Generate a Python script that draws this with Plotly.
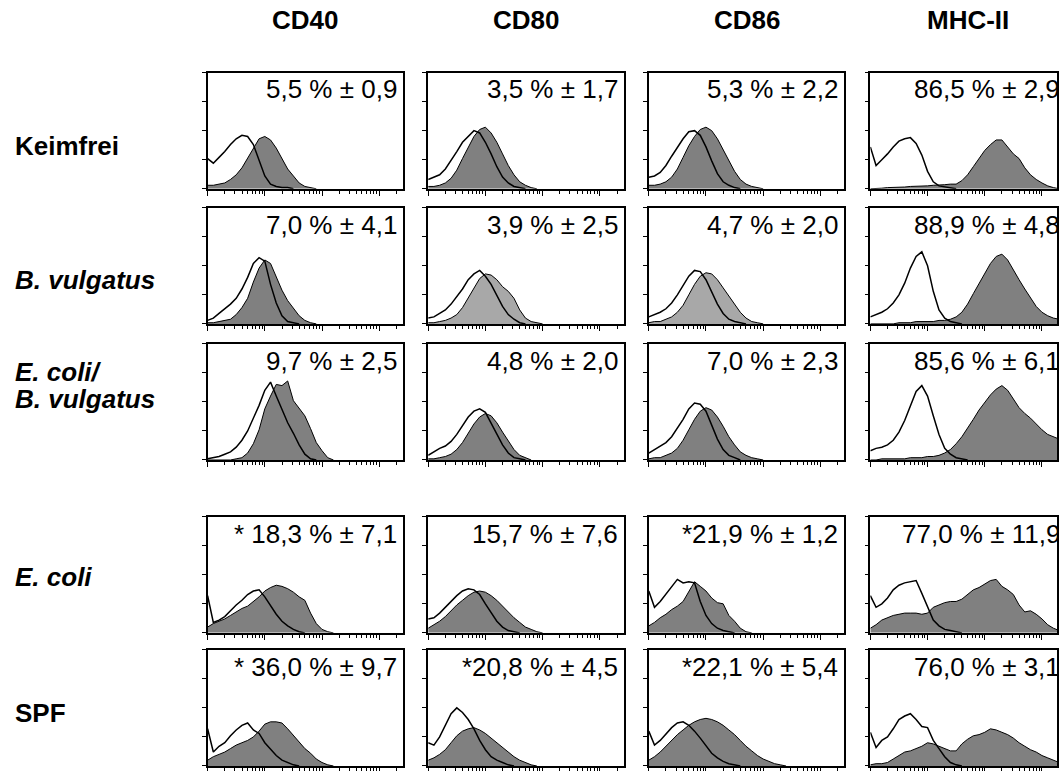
import math
import plotly.graph_objects as go

# ---------------- data ----------------
GRID = [0.0, 0.1, 0.2, 0.3, 0.4, 0.5, 0.6, 0.7, 0.8, 0.9, 1.0, 1.1, 1.2, 1.3, 1.4, 1.5, 1.6,
        1.7, 1.8, 1.9, 2.0, 2.1, 2.2, 2.3, 2.4, 2.5, 2.6, 2.7, 2.8, 2.9, 3.0, 3.1, 3.2, 3.3, 3.4]

MARKERS = ["CD40", "CD80", "CD86", "MHC-II"]
GROUPS = ["<b>Keimfrei</b>", "<b><i>B. vulgatus</i></b>", "<b><i>E. coli/</i></b>|<b><i>B. vulgatus</i></b>",
          "<b><i>E. coli</i></b>", "<b>SPF</b>"]

PERCENTS = [
    ["5,5 % ± 0,9", "3,5 % ± 1,7", "5,3 % ± 2,2", "86,5 % ± 2,9"],
    ["7,0 % ± 4,1", "3,9 % ± 2,5", "4,7 % ± 2,0", "88,9 % ± 4,8"],
    ["9,7 % ± 2,5", "4,8 % ± 2,0", "7,0 % ± 2,3", "85,6 % ± 6,1"],
    ["* 18,3 % ± 7,1", "15,7 % ± 7,6", "*21,9 % ± 1,2", "77,0 % ± 11,9"],
    ["* 36,0 % ± 9,7", "*20,8 % ± 4,5", "*22,1 % ± 5,4", "76,0 % ± 3,1"],
]

# open (isotype control) histograms, fraction of panel height, per marker
keimfrei_ctrl = [
    [0.26, 0.22, 0.27, 0.32, 0.38, 0.43, 0.46, 0.45, 0.38, 0.25, 0.11, 0.04, 0.02, 0.01, 0.01, 0],
    [0.08, 0.1, 0.12, 0.17, 0.24, 0.32, 0.4, 0.45, 0.5, 0.48, 0.4, 0.3, 0.19, 0.1, 0.05, 0.02, 0.01, 0],
    [0.1, 0.11, 0.14, 0.2, 0.28, 0.36, 0.43, 0.49, 0.5, 0.46, 0.36, 0.24, 0.13, 0.06, 0.03, 0.01, 0],
    [0.36, 0.2, 0.25, 0.3, 0.36, 0.41, 0.43, 0.44, 0.39, 0.29, 0.15, 0.06, 0.025, 0.015, 0.01, 0],
]
keimfrei_stain = [
    [0.03, 0.03, 0.04, 0.05, 0.08, 0.12, 0.18, 0.26, 0.35, 0.43, 0.45, 0.42, 0.35, 0.26, 0.17, 0.11, 0.05, 0.02, 0.01, 0],
    [0.02, 0.02, 0.03, 0.05, 0.09, 0.16, 0.26, 0.36, 0.45, 0.51, 0.53, 0.48, 0.4, 0.3, 0.2, 0.12, 0.06, 0.03, 0.01, 0],
    [0.03, 0.03, 0.04, 0.06, 0.1, 0.17, 0.27, 0.37, 0.45, 0.51, 0.53, 0.5, 0.43, 0.34, 0.24, 0.15, 0.08, 0.04, 0.02, 0.01, 0],
    [0, 0, 0.005, 0.01, 0.01, 0.01, 0.015, 0.02, 0.02, 0.02, 0.025, 0.03, 0.03, 0.035, 0.04, 0.04, 0.07, 0.12,
     0.19, 0.26, 0.33, 0.38, 0.42, 0.42, 0.36, 0.3, 0.26, 0.18, 0.12, 0.08, 0.05, 0.025, 0.01, 0, 0],
]

bvulg_ctrl = [
    [0.03, 0.05, 0.09, 0.13, 0.17, 0.22, 0.3, 0.4, 0.52, 0.57, 0.54, 0.34, 0.18, 0.07, 0.02, 0.01, 0],
    [0.05, 0.06, 0.09, 0.12, 0.17, 0.23, 0.3, 0.38, 0.43, 0.46, 0.41, 0.34, 0.25, 0.15, 0.08, 0.04, 0.01, 0],
    [0.06, 0.08, 0.1, 0.13, 0.18, 0.25, 0.33, 0.41, 0.46, 0.45, 0.38, 0.28, 0.17, 0.09, 0.04, 0.02, 0.01, 0],
    [0.06, 0.08, 0.1, 0.13, 0.18, 0.25, 0.35, 0.48, 0.58, 0.62, 0.5, 0.28, 0.12, 0.05, 0.02, 0.01, 0],
]
bvulg_stain = [
    [0.01, 0.01, 0.02, 0.03, 0.04, 0.08, 0.14, 0.22, 0.36, 0.48, 0.55, 0.52, 0.4, 0.29, 0.2, 0.13, 0.07, 0.03, 0.01, 0],
    [0.01, 0.01, 0.02, 0.03, 0.05, 0.08, 0.14, 0.22, 0.31, 0.39, 0.43, 0.42, 0.38, 0.32, 0.28, 0.22, 0.12, 0.05, 0.02, 0.01, 0],
    [0.01, 0.02, 0.02, 0.04, 0.06, 0.1, 0.16, 0.25, 0.34, 0.41, 0.44, 0.43, 0.38, 0.31, 0.24, 0.17, 0.1, 0.05, 0.02, 0.01, 0],
    [0, 0, 0, 0, 0, 0.01, 0.01, 0.01, 0.02, 0.02, 0.02, 0.02, 0.03, 0.03, 0.04, 0.06, 0.1, 0.17, 0.26, 0.35,
     0.44, 0.52, 0.58, 0.6, 0.55, 0.46, 0.38, 0.3, 0.22, 0.15, 0.1, 0.07, 0.05, 0.04, 0.03],
]

ecbv_ctrl = [
    [0.01, 0.02, 0.03, 0.05, 0.07, 0.11, 0.17, 0.25, 0.36, 0.47, 0.6, 0.67, 0.55, 0.43, 0.32, 0.23, 0.13, 0.05, 0.01, 0],
    [0.04, 0.07, 0.1, 0.12, 0.16, 0.22, 0.3, 0.37, 0.42, 0.44, 0.41, 0.32, 0.22, 0.13, 0.06, 0.02, 0.01, 0],
    [0.06, 0.09, 0.12, 0.15, 0.2, 0.27, 0.35, 0.44, 0.49, 0.48, 0.42, 0.3, 0.18, 0.09, 0.04, 0.02, 0],
    [0.08, 0.1, 0.11, 0.13, 0.17, 0.24, 0.34, 0.47, 0.59, 0.64, 0.55, 0.38, 0.22, 0.1, 0.05, 0.02, 0.01, 0],
]
ecbv_stain = [
    [0, 0, 0, 0, 0, 0.01, 0.02, 0.06, 0.14, 0.26, 0.44, 0.55, 0.65, 0.64, 0.68, 0.51, 0.45, 0.38, 0.27, 0.15, 0.08, 0.02, 0],
    [0.01, 0.01, 0.02, 0.03, 0.05, 0.09, 0.15, 0.23, 0.31, 0.37, 0.4, 0.38, 0.32, 0.24, 0.16, 0.09, 0.04, 0.02, 0],
    [0.01, 0.02, 0.02, 0.04, 0.06, 0.1, 0.17, 0.26, 0.35, 0.42, 0.45, 0.43, 0.37, 0.29, 0.2, 0.13, 0.07, 0.04, 0.02, 0.01, 0],
    [0, 0, 0.01, 0.01, 0.01, 0.01, 0.01, 0.02, 0.02, 0.02, 0.03, 0.03, 0.04, 0.06, 0.09, 0.14, 0.2, 0.27, 0.35, 0.43,
     0.5, 0.56, 0.61, 0.64, 0.6, 0.52, 0.45, 0.4, 0.36, 0.31, 0.26, 0.22, 0.2, 0.18, 0.16],
]

ecoli_ctrl = [
    [0.32, 0.09, 0.11, 0.14, 0.19, 0.24, 0.28, 0.33, 0.36, 0.37, 0.31, 0.23, 0.16, 0.1, 0.06, 0.03, 0.01, 0],
    [0.12, 0.13, 0.17, 0.22, 0.27, 0.32, 0.36, 0.38, 0.37, 0.33, 0.25, 0.17, 0.1, 0.05, 0.02, 0.01, 0],
    [0.36, 0.22, 0.27, 0.33, 0.39, 0.46, 0.43, 0.44, 0.43, 0.27, 0.15, 0.08, 0.04, 0.02, 0.01, 0],
    [0.32, 0.22, 0.25, 0.3, 0.37, 0.41, 0.43, 0.44, 0.45, 0.34, 0.22, 0.11, 0.06, 0.03, 0.02, 0.01, 0],
]
ecoli_stain = [
    [0.05, 0.08, 0.1, 0.12, 0.15, 0.18, 0.21, 0.23, 0.27, 0.31, 0.36, 0.39, 0.41, 0.4, 0.38, 0.35, 0.31, 0.28, 0.17, 0.08, 0.03, 0.01, 0],
    [0.04, 0.07, 0.1, 0.14, 0.19, 0.24, 0.28, 0.32, 0.35, 0.36, 0.35, 0.32, 0.28, 0.23, 0.18, 0.13, 0.09, 0.05, 0.03, 0.01, 0],
    [0.06, 0.09, 0.13, 0.16, 0.2, 0.23, 0.27, 0.36, 0.44, 0.4, 0.36, 0.3, 0.26, 0.25, 0.15, 0.1, 0.04, 0.01, 0],
    [0.04, 0.07, 0.11, 0.13, 0.15, 0.16, 0.17, 0.17, 0.17, 0.16, 0.17, 0.22, 0.24, 0.26, 0.27, 0.27, 0.29, 0.33,
     0.37, 0.39, 0.42, 0.45, 0.46, 0.4, 0.37, 0.33, 0.24, 0.18, 0.19, 0.16, 0.12, 0.07, 0.04, 0.02, 0.01],
]

spf_ctrl = [
    [0.32, 0.12, 0.17, 0.2, 0.26, 0.31, 0.35, 0.37, 0.31, 0.28, 0.2, 0.14, 0.09, 0.05, 0.03, 0.01, 0],
    [0.2, 0.18, 0.25, 0.35, 0.45, 0.5, 0.46, 0.4, 0.32, 0.22, 0.14, 0.08, 0.05, 0.03, 0.01, 0],
    [0.3, 0.18, 0.22, 0.28, 0.33, 0.37, 0.38, 0.35, 0.3, 0.24, 0.17, 0.11, 0.07, 0.04, 0.02, 0.01, 0],
    [0.29, 0.16, 0.22, 0.25, 0.32, 0.4, 0.43, 0.45, 0.4, 0.34, 0.33, 0.22, 0.15, 0.08, 0.03, 0.01, 0],
]
spf_stain = [
    [0.05, 0.08, 0.1, 0.12, 0.15, 0.18, 0.2, 0.22, 0.25, 0.3, 0.36, 0.38, 0.38, 0.37, 0.32, 0.26, 0.2, 0.15, 0.11, 0.06, 0.03, 0.01, 0],
    [0.05, 0.07, 0.1, 0.14, 0.2, 0.26, 0.3, 0.32, 0.33, 0.31, 0.28, 0.24, 0.2, 0.16, 0.12, 0.08, 0.05, 0.03, 0.01, 0],
    [0.05, 0.08, 0.12, 0.17, 0.22, 0.27, 0.31, 0.35, 0.38, 0.4, 0.41, 0.4, 0.38, 0.35, 0.31, 0.27, 0.22, 0.17, 0.13,
     0.09, 0.06, 0.04, 0.02, 0.01, 0],
    [0.01, 0.02, 0.02, 0.03, 0.06, 0.09, 0.12, 0.13, 0.15, 0.17, 0.2, 0.19, 0.17, 0.15, 0.13, 0.13, 0.19, 0.23,
     0.26, 0.27, 0.29, 0.32, 0.31, 0.29, 0.27, 0.24, 0.2, 0.17, 0.14, 0.12, 0.09, 0.07, 0.05, 0.03, 0.02],
]

CTRL = [keimfrei_ctrl, bvulg_ctrl, ecbv_ctrl, ecoli_ctrl, spf_ctrl]
STAIN = [keimfrei_stain, bvulg_stain, ecbv_stain, ecoli_stain, spf_stain]

# ---------------- layout (pixels) ----------------
W, H = 1059, 771
COL_LEFT = [208, 429, 650, 872]
PANEL_W = 196
DECADES = 3.42
ROW_TOP = [73, 209, 346, 520, 654]
PANEL_H = 117
DARK = "#808080"
LIGHT = "#a8a8a8"
FONT = "Liberation Sans, Arial, sans-serif"

major = [0, 1, 2, 3]
minor = [math.log10(k * 10 ** d) for d in range(4) for k in range(2, 10) if math.log10(k * 10 ** d) < DECADES]

fig = go.Figure()
layout = dict(width=W, height=H, margin=dict(l=0, r=0, t=0, b=0),
              paper_bgcolor="white", plot_bgcolor="rgba(0,0,0,0)", showlegend=False,
              font=dict(family=FONT, color="black"))
annotations = []

k = 0
for r in range(5):
    for c in range(4):
        k += 1
        left = COL_LEFT[c]
        right = left + PANEL_W
        vis_right = min(right, W)
        top = ROW_TOP[r]
        bottom = top + PANEL_H
        xd = [left / W, vis_right / W]
        yd = [max(0.0, 1 - bottom / H), 1 - top / H]
        xr = [0, DECADES * (vis_right - left) / PANEL_W]
        sfx = "" if k == 1 else str(k)
        layout["xaxis" + sfx] = dict(
            domain=xd, range=xr, anchor="y" + sfx, showgrid=False, zeroline=False,
            showline=True, linecolor="black", linewidth=1.5, mirror=True,
            ticks="outside", tickvals=major, ticklen=5, tickwidth=1, tickcolor="black",
            showticklabels=False,
            minor=dict(tickvals=minor, ticks="outside", ticklen=3, tickwidth=1, tickcolor="black", showgrid=False),
        )
        layout["yaxis" + sfx] = dict(
            domain=yd, range=[0, 1], anchor="x" + sfx, showgrid=False, zeroline=False,
            showline=True, linecolor="black", linewidth=1.5, mirror=True,
            ticks="outside", tickvals=[0, 0.25, 0.5, 0.75, 1], ticklen=4, tickwidth=1,
            tickcolor="black", showticklabels=False,
        )
        stain = STAIN[r][c]
        ctrl = CTRL[r][c]
        fillc = LIGHT if (r == 1 and c in (1, 2)) else DARK
        fig.add_trace(go.Scatter(x=GRID[:len(stain)], y=stain, mode="lines", fill="tozeroy",
                                 fillcolor=fillc, line=dict(color="black", width=1),
                                 xaxis="x" + sfx, yaxis="y" + sfx, hoverinfo="skip"))
        fig.add_trace(go.Scatter(x=GRID[:len(ctrl)], y=ctrl, mode="lines",
                                 line=dict(color="black", width=1.5),
                                 xaxis="x" + sfx, yaxis="y" + sfx, hoverinfo="skip"))
        annotations.append(dict(xref="paper", yref="paper", x=(right - 4) / W, y=1 - (top + 17) / H,
                                xanchor="right", yanchor="middle", showarrow=False,
                                text=PERCENTS[r][c], font=dict(size=26, family=FONT, color="black")))

# column headers
for c, name in enumerate(MARKERS):
    annotations.append(dict(xref="paper", yref="paper", x=(COL_LEFT[c] + PANEL_W / 2) / W, y=1 - 20 / H,
                            xanchor="center", yanchor="middle", showarrow=False,
                            text="<b>" + name + "</b>", font=dict(size=26, family=FONT, color="black")))

# row labels
LABEL_Y = [[147], [282], [374, 402], [581], [718]]
for r, lab in enumerate(GROUPS):
    parts = lab.split("|")
    for p, yy in zip(parts, LABEL_Y[r]):
        annotations.append(dict(xref="paper", yref="paper", x=13 / W, y=1 - yy / H,
                                xanchor="left", yanchor="middle", showarrow=False,
                                text=p, font=dict(size=26, family=FONT, color="black")))

layout["annotations"] = annotations
fig.update_layout(**layout)

fig.write_html("out.html", config={"displayModeBar": False},
               post_script="document.body.style.margin='0';document.body.style.overflow='hidden';")
